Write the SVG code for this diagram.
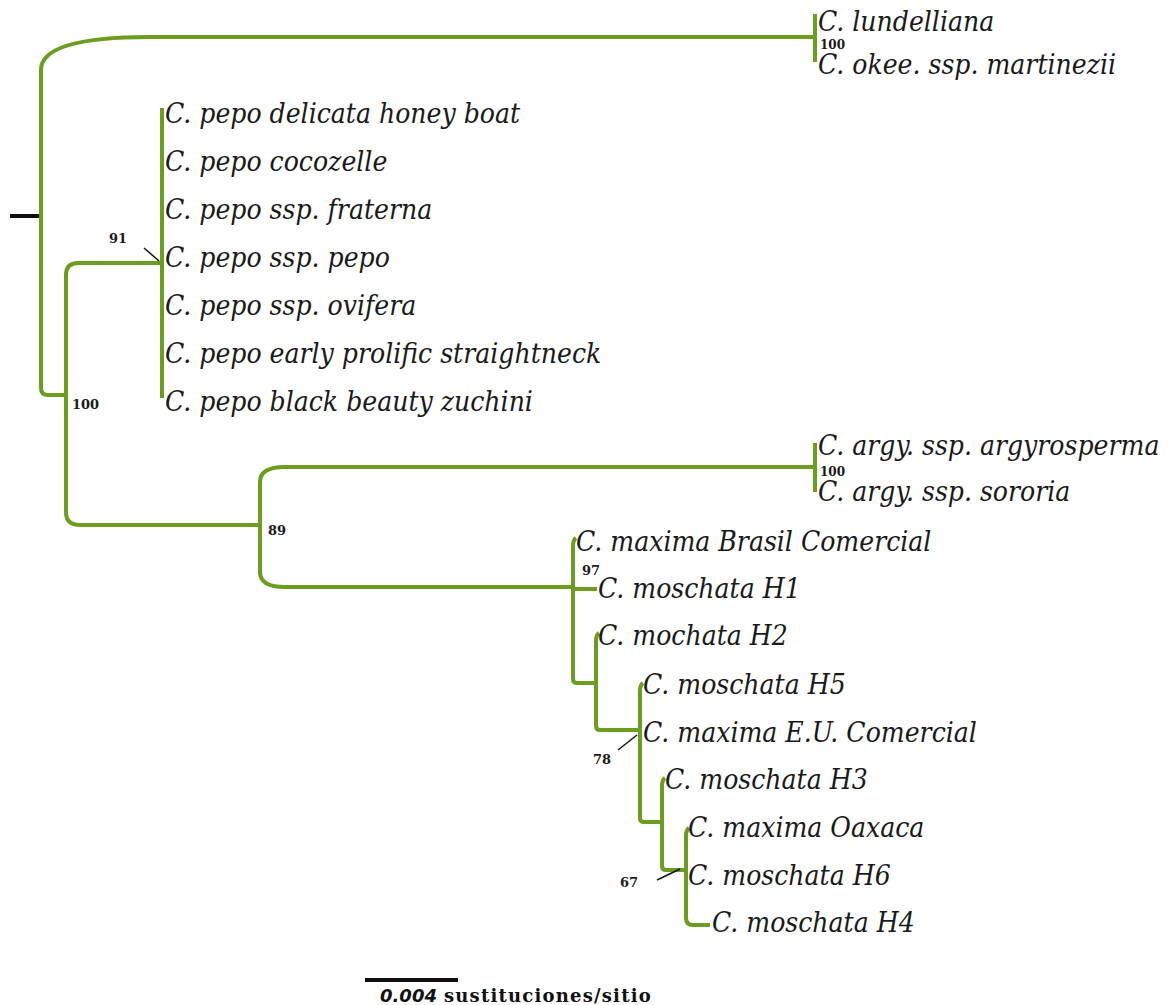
<svg xmlns="http://www.w3.org/2000/svg" width="1168" height="1005" viewBox="0 0 1168 1005">
<style>
.br{fill:none;stroke:#6b9e1f;stroke-width:4;stroke-linecap:butt;stroke-linejoin:round}
.tx{font-family:"DejaVu Serif Condensed","DejaVu Serif","Liberation Serif",serif;font-stretch:condensed;font-style:italic;font-size:28px;fill:#1a1a1a}
.bs{font-family:"DejaVu Serif","Liberation Serif",serif;font-weight:bold;font-size:13px;fill:#1a1a1a}
.bt{font-size:12px}
.tk{stroke:#111;stroke-width:1.5}
</style>
<rect width="1168" height="1005" fill="#fff"/>
<g id="connectors">
<line x1="10" y1="216" x2="41" y2="216" stroke="#111" stroke-width="4"/>
<path class="br" d="M41,70 L41,388 Q41,395 48,395 L66,395"/>
<path class="br" d="M41,70 Q41,37 150,37 L815,37"/>
<path class="br" d="M815,14 L815,62"/>
<path class="br" d="M162,263 L78,263 Q66,263 66,275 L66,512 Q66,525 80,525 L260,525"/>
<path class="br" d="M162,108 L162,398"/>
<path class="br" d="M815,467 L285,467 Q260,467 260,482 L260,572 Q260,587 285,587 L573,587"/>
<path class="br" d="M815,443 L815,492"/>
<path class="br" d="M576,538 Q573,540 573,546 L573,679 Q573,683 577,683 L596,683"/>
<path class="br" d="M573,589 L597,589"/>
<path class="br" d="M599,633 Q596,635 596,641 L596,726 Q596,730 600,730 L640,730"/>
<path class="br" d="M643,683 Q640,685 640,691 L640,818 Q640,822 644,822 L662,822"/>
<path class="br" d="M665,778 Q662,780 662,786 L662,866 Q662,870 666,870 L686,870"/>
<path class="br" d="M689,828 Q686,830 686,836 L686,918 Q686,925 693,925 L710,925"/>
<line class="tk" x1="144" y1="248" x2="159" y2="261"/>
<line class="tk" x1="618" y1="750" x2="637" y2="735"/>
<line class="tk" x1="657" y1="880" x2="680" y2="869"/>
</g>
<g id="n-lundelliana"><text class="tx" x="818" y="31">C. lundelliana</text></g>
<g id="n-okee"><text class="tx" x="818" y="74">C. okee. ssp. martinezii</text></g>
<g id="s-100a"><text class="bs bt" x="820" y="49">100</text></g>
<g id="n-pepo1"><text class="tx" x="165" y="123">C. pepo delicata honey boat</text></g>
<g id="n-pepo2"><text class="tx" x="165" y="171">C. pepo cocozelle</text></g>
<g id="n-pepo3"><text class="tx" x="165" y="219">C. pepo ssp. fraterna</text></g>
<g id="n-pepo4"><text class="tx" x="165" y="267">C. pepo ssp. pepo</text></g>
<g id="n-pepo5"><text class="tx" x="165" y="315">C. pepo ssp. ovifera</text></g>
<g id="n-pepo6"><text class="tx" x="165" y="363">C. pepo early prolific straightneck</text></g>
<g id="n-pepo7"><text class="tx" x="165" y="411">C. pepo black beauty zuchini</text></g>
<g id="s-91"><text class="bs" x="109" y="243">91</text></g>
<g id="s-100b"><text class="bs" x="72" y="409">100</text></g>
<g id="s-89"><text class="bs" x="268" y="535">89</text></g>
<g id="n-argy1"><text class="tx" x="818" y="455">C. argy. ssp. argyrosperma</text></g>
<g id="n-argy2"><text class="tx" x="818" y="501">C. argy. ssp. sororia</text></g>
<g id="s-100c"><text class="bs bt" x="820" y="476">100</text></g>
<g id="n-maxbr"><text class="tx" x="576" y="551">C. maxima Brasil Comercial</text></g>
<g id="s-97"><text class="bs" x="582" y="575">97</text></g>
<g id="n-h1"><text class="tx" x="598" y="598">C. moschata H1</text></g>
<g id="n-h2"><text class="tx" x="598" y="645">C. mochata H2</text></g>
<g id="n-h5"><text class="tx" x="643" y="694">C. moschata H5</text></g>
<g id="n-maxeu"><text class="tx" x="643" y="742">C. maxima E.U. Comercial</text></g>
<g id="s-78"><text class="bs" x="593" y="764">78</text></g>
<g id="n-h3"><text class="tx" x="665" y="789">C. moschata H3</text></g>
<g id="n-oax"><text class="tx" x="688" y="837">C. maxima Oaxaca</text></g>
<g id="n-h6"><text class="tx" x="688" y="885">C. moschata H6</text></g>
<g id="s-67"><text class="bs" x="620" y="887">67</text></g>
<g id="n-h4"><text class="tx" x="712" y="932">C. moschata H4</text></g>
<g id="scale">
<line x1="365" y1="980" x2="458" y2="980" stroke="#111" stroke-width="4"/>
<text x="380" y="1002" font-family="'DejaVu Sans',sans-serif" font-weight="bold" font-style="italic" font-size="18" fill="#111">0.004</text>
<text x="444" y="1002" font-family="'DejaVu Serif',serif" font-weight="bold" font-size="18" letter-spacing="1.2" fill="#111">sustituciones/sitio</text>
</g>
</svg>
